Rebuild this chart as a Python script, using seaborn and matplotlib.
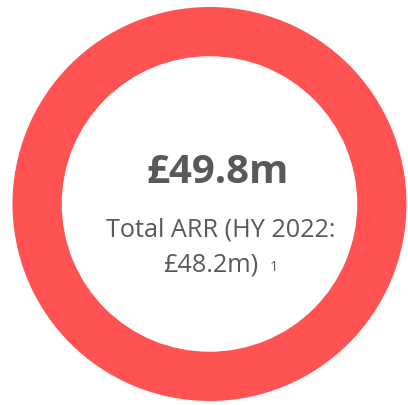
import matplotlib
matplotlib.use("Agg")
import matplotlib.pyplot as plt
import seaborn as sns

# Data
segments = ["Total ARR"]
values = [49.8]
headline = "£49.8m"
subtitle_line1 = "Total ARR (HY 2022:"
subtitle_line2 = "£48.2m)"
footnote = "1"

sns.set_style("white")
plt.rcParams['font.family'] = ['Open Sans', 'DejaVu Sans']

W, H = 408, 406
fig = plt.figure(figsize=(W / 100, H / 100), dpi=100)
fig.patch.set_facecolor("white")

cx, cy, R = 209.5, 205, 197
ax = fig.add_axes([(cx - R) / W, (H - cy - R) / H, 2 * R / W, 2 * R / H])
ring_color = "#FF5252"
ax.pie(values, colors=[ring_color] * len(values), radius=1, startangle=90,
       counterclock=False, wedgeprops=dict(width=0.25, edgecolor=ring_color, linewidth=0))
ax.set_xlim(-1, 1)
ax.set_ylim(-1, 1)
ax.set_aspect("auto")
ax.axis("off")

txt = "#595959"
def fx(x): return x / W
def fy(y): return (H - y) / H

fig.text(fx(217.5), fy(183), headline, ha="center", va="baseline",
         fontsize=29, fontweight="bold", color=txt)
fig.text(fx(221), fy(237), subtitle_line1, ha="center", va="baseline",
         fontsize=18.2, color=txt)
fig.text(fx(163), fy(271), subtitle_line2, ha="left", va="baseline",
         fontsize=18.2, color=txt)
fig.text(fx(270), fy(271), footnote, ha="left", va="baseline",
         fontsize=10.5, color=txt)

fig.savefig("out.png", dpi=100, facecolor="white")
